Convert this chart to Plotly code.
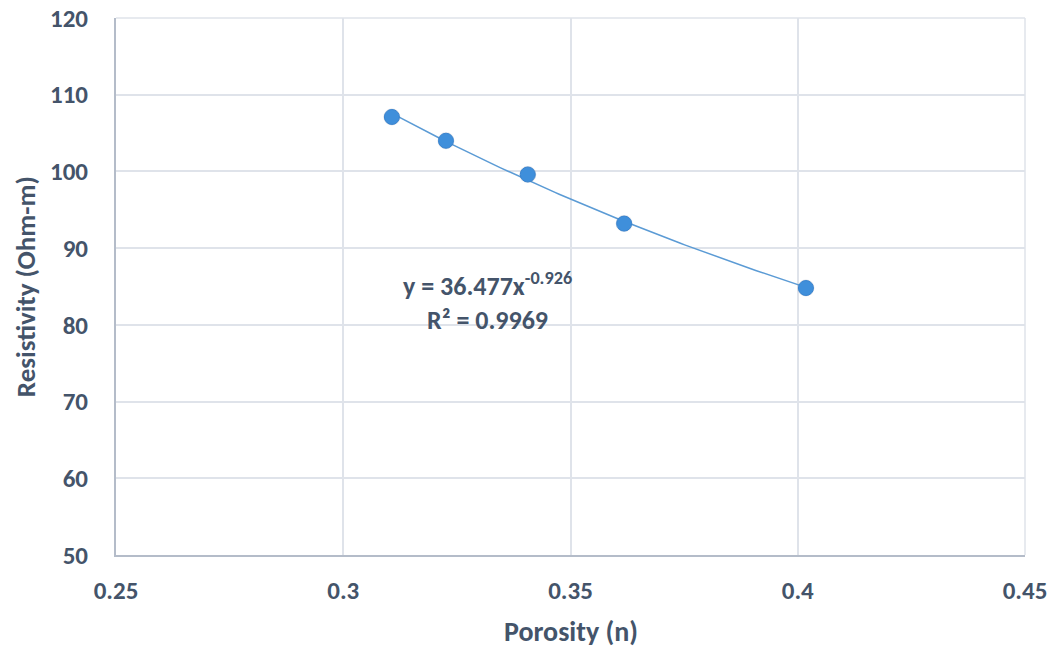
import numpy as np
import plotly.graph_objects as go

porosity = [0.3107, 0.3226, 0.3406, 0.3618, 0.4018]
resistivity = [107.1, 104.0, 99.6, 93.2, 84.8]

x_ticks = [0.25, 0.3, 0.35, 0.4, 0.45]
y_ticks = [50, 60, 70, 80, 90, 100, 110, 120]

eq_text = "y = 36.477x<sup>-0.926</sup>"
r2_text = "R² = 0.9969"
x_title = "Porosity (n)"
y_title = "Resistivity (Ohm-m)"

# power trendline fitted from data (log-log least squares)
b, loga = np.polyfit(np.log(porosity), np.log(resistivity), 1)
xt = np.linspace(min(porosity), max(porosity), 100)
yt = np.exp(loga) * xt ** b

font_family = "Carlito, Lato, 'Open Sans', sans-serif"
txt_color = "#44546a"
grid_color = "#dfe3ea"

fig = go.Figure()
fig.add_trace(go.Scatter(x=xt, y=yt, mode="lines",
                         line=dict(color="#5b9bd5", width=1.5),
                         hoverinfo="skip", showlegend=False))
fig.add_trace(go.Scatter(x=porosity, y=resistivity, mode="markers",
                         marker=dict(size=17, color="rgba(60,80,110,0.16)"),
                         hoverinfo="skip", showlegend=False))
fig.add_trace(go.Scatter(x=porosity, y=resistivity, mode="markers",
                         marker=dict(size=15, color="#3f8fdb",
                                     line=dict(color="#3a84cf", width=1)),
                         showlegend=False))

# top and right border gridlines (plot frame)
fig.add_shape(type="line", xref="paper", yref="paper", x0=0, x1=1, y0=1, y1=1,
              line=dict(color=grid_color, width=1.5), layer="below")
fig.add_shape(type="line", xref="paper", yref="paper", x0=1, x1=1, y0=0, y1=1,
              line=dict(color=grid_color, width=1.5), layer="below")

fig.add_annotation(x=0.3318, y=83.0, xref="x", yref="y",
                   text="<b>" + eq_text + "<br>" + r2_text + "</b>", showarrow=False,
                   font=dict(family=font_family, size=26, color=txt_color),
                   align="center")
fig.add_annotation(x=0.5, y=-0.143, xref="paper", yref="paper",
                   text="<b>" + x_title + "</b>", showarrow=False,
                   xanchor="center", yanchor="middle",
                   font=dict(family=font_family, size=28, color=txt_color))
fig.add_annotation(x=-0.100, y=0.499, xref="paper", yref="paper",
                   text="<b>" + y_title + "</b>", showarrow=False, textangle=-90,
                   xanchor="center", yanchor="middle",
                   font=dict(family=font_family, size=27, color=txt_color))

tickfont = dict(size=25, family=font_family, color=txt_color, weight="bold")
fig.update_layout(
    width=1056, height=645,
    margin=dict(l=108, r=39, t=10, b=98, autoexpand=False),
    paper_bgcolor="white", plot_bgcolor="white",
    font=dict(family=font_family, color=txt_color),
    xaxis=dict(range=[0.25, 0.45], tickvals=x_ticks,
               ticktext=["<b>%s</b>" % v for v in x_ticks],
               showgrid=True, gridcolor=grid_color, gridwidth=1.5,
               showline=True, linecolor="#b4bcc9", linewidth=2,
               zeroline=False, ticks="", automargin=False,
               ticklabeloverflow="allow",
               ticklabelstandoff=12, tickfont=tickfont),
    yaxis=dict(range=[50, 120], tickvals=y_ticks,
               ticktext=["<b>%s</b>" % v for v in y_ticks],
               showgrid=True, gridcolor=grid_color, gridwidth=1.5,
               showline=True, linecolor="#b4bcc9", linewidth=2,
               zeroline=False, ticks="", automargin=False,
               ticklabeloverflow="allow",
               ticklabelstandoff=21, tickfont=tickfont),
)

fig.write_html("out.html")
